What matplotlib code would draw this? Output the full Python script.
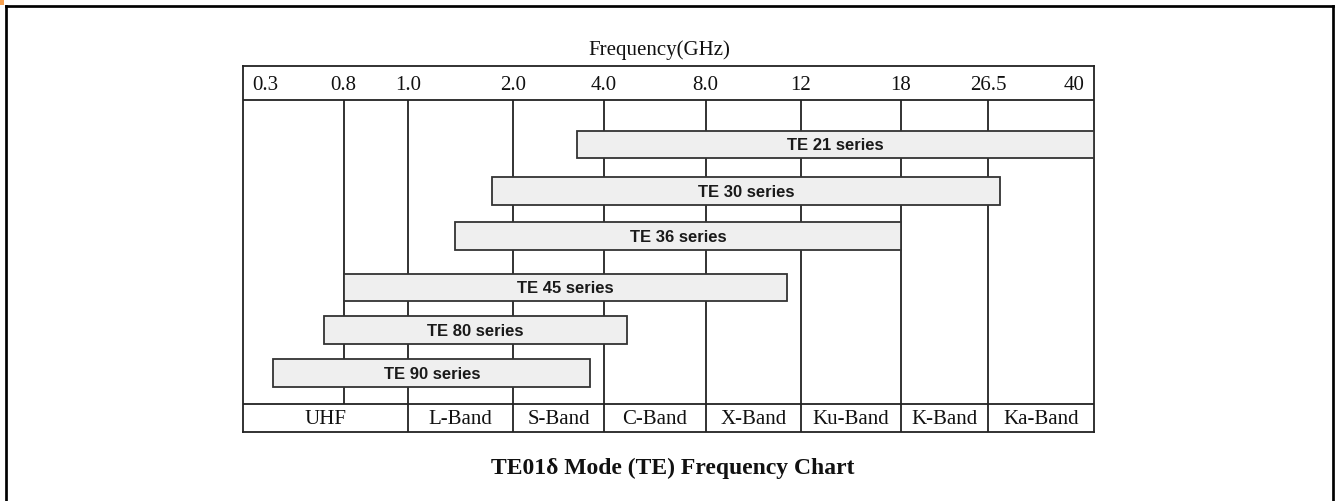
import numpy as np
import matplotlib
matplotlib.use("Agg")
import matplotlib.pyplot as plt
from matplotlib.patches import Rectangle

# ---------------- data ----------------
tick_freqs = [0.3, 0.8, 1.0, 2.0, 4.0, 8.0, 12, 18, 26.5, 40]
tick_labels = ["0.3", "0.8", "1.0", "2.0", "4.0", "8.0", "12", "18", "26.5", "40"]
series_names = ["TE 21 series", "TE 30 series", "TE 36 series",
                "TE 45 series", "TE 80 series", "TE 90 series"]
series_start = [3.4, 1.8, 1.45, 0.8, 0.7, 0.45]     # GHz
series_end = [40, 28, 18, 11.4, 4.9, 3.7]           # GHz
band_names = ["UHF", "L-Band", "S-Band", "C-Band", "X-Band", "Ku-Band", "K-Band", "Ka-Band"]
band_edges = [0.3, 1.0, 2.0, 4.0, 8.0, 12, 18, 26.5, 40]
axis_title = "Frequency(GHz)"
chart_title = "TE01\u03b4 Mode (TE) Frequency Chart"

# ---------------- layout ----------------
W, H = 1337, 502
col_pos = [243.3, 343.7, 407.7, 513, 604, 705.7, 801, 900.7, 988.3, 1094]  # column line positions (px)
box_top, header_bot, band_top, box_bot = 67.3, 100.7, 405.0, 432.7
row_y = [145.5, 192, 237, 288.5, 331, 374]
bar_h = 27.5
line_c = "#222222"
serif = ["Liberation Serif", "DejaVu Serif"]
sans = ["Liberation Sans", "DejaVu Sans"]


def fwd(f):
    return np.interp(f, tick_freqs, col_pos)


def inv(p):
    return np.interp(p, col_pos, tick_freqs)


fig = plt.figure(figsize=(W / 100, H / 100), dpi=100)
fig.patch.set_facecolor("white")

# background / decoration axes in pixel coordinates
bg = fig.add_axes([0, 0, 1, 1], zorder=-1)
bg.set_xlim(0, W)
bg.set_ylim(H, 0)
bg.axis("off")
bw = 1.95
bg.plot([6.3, 6.3], [6.7, H + 5], color="black", lw=bw, solid_capstyle="projecting")
bg.plot([6.3, 1333], [6.7, 6.7], color="black", lw=bw, solid_capstyle="projecting")
bg.plot([1333, 1333], [6.7, H + 5], color="black", lw=bw, solid_capstyle="projecting")
bg.add_patch(Rectangle((0, 0), 4, 6, color="#f5a050", lw=0))
bg.text(659.5, 50, axis_title, ha="center", va="center", fontsize=15, family=serif, color="#111111")
bg.text(673, 468, chart_title, ha="center", va="center", fontsize=17,
        fontweight="bold", family=serif, color="#111111")

# chart axes
L = col_pos[0] / W
R = col_pos[-1] / W
B = 1 - box_bot / H
T = 1 - box_top / H
ax = fig.add_axes([L, B, R - L, T - B])
ax.set_xscale("function", functions=(fwd, inv))
ax.set_xlim(tick_freqs[0], tick_freqs[-1])
ax.set_ylim(box_bot, box_top)
ax.set_xticks([])
ax.set_yticks([])
for s in ax.spines.values():
    s.set_color(line_c)
    s.set_linewidth(1.3)

ax.axhline(header_bot, color=line_c, lw=1.3)
ax.axhline(band_top, color=line_c, lw=1.3)
ax.vlines(tick_freqs[1:-1], header_bot, band_top, color=line_c, lw=1.3)
ax.vlines(band_edges[1:-1], band_top, box_bot, color=line_c, lw=1.3)

# header tick labels
hy = (box_top + header_bot) / 2 + 1
for i, (f, lab) in enumerate(zip(tick_freqs, tick_labels)):
    if i == 0:
        ax.annotate(lab, (f, hy), xytext=(8.7, 0), textcoords="offset pixels",
                    ha="left", va="center", fontsize=15, family=serif, color="#111111")
    elif i == len(tick_freqs) - 1:
        ax.annotate(lab, (f, hy), xytext=(-9, 0), textcoords="offset pixels",
                    ha="right", va="center", fontsize=15, family=serif, color="#111111")
    else:
        ax.text(f, hy, lab, ha="center", va="center", fontsize=15, family=serif, color="#111111")

# band labels
by = (band_top + box_bot) / 2 + 1
for name, lo, hi in zip(band_names, band_edges[:-1], band_edges[1:]):
    cx = inv((fwd(lo) + fwd(hi)) / 2)
    ax.text(cx, by, name, ha="center", va="center", fontsize=15, family=serif, color="#111111")

# series bars
starts = np.array(series_start)
ends = np.array(series_end)
ax.barh(row_y, ends - starts, left=starts, height=bar_h, color="#efefef",
        edgecolor="#333333", linewidth=1.3, zorder=3)
for name, s, e, y in zip(series_names, starts, ends, row_y):
    cx = inv((fwd(s) + fwd(e)) / 2)
    ax.text(cx, y + 0.5, name, ha="center", va="center", fontsize=12,
            fontweight="bold", family=sans, color="#1a1a1a", zorder=4)

fig.savefig("out.png", dpi=100, facecolor="white")
